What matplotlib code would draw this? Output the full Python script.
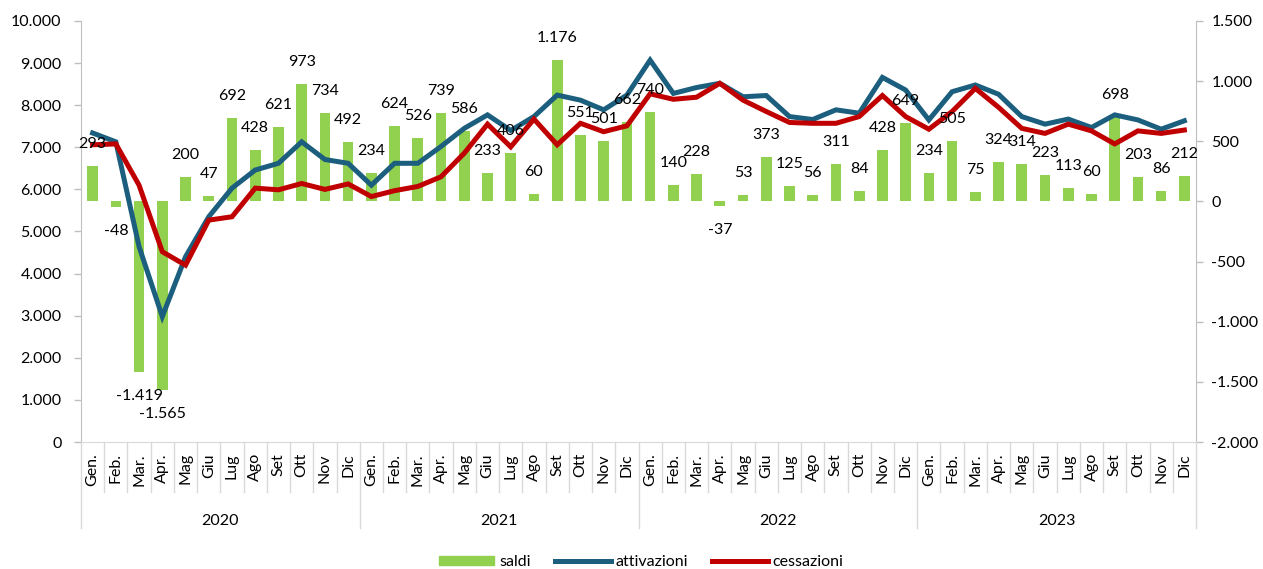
import matplotlib
matplotlib.use("Agg")
import matplotlib.pyplot as plt
from matplotlib.transforms import blended_transform_factory
from matplotlib.patches import Patch
from matplotlib.lines import Line2D

plt.rcParams['font.family'] = ['Lato', 'DejaVu Sans']

mesi = ["Gen.", "Feb.", "Mar.", "Apr.", "Mag", "Giu", "Lug", "Ago", "Set", "Ott", "Nov", "Dic"]
anni = ["2020", "2021", "2022", "2023"]

saldi = [293, -48, -1419, -1565, 200, 47, 692, 428, 621, 973, 734, 492,
         234, 624, 526, 739, 586, 233, 406, 60, 1176, 551, 501, 662,
         740, 140, 228, -37, 53, 373, 125, 56, 311, 84, 428, 649,
         234, 505, 75, 324, 314, 223, 113, 60, 698, 203, 86, 212]

attivazioni = [7340, 7130, 4640, 2980, 4400, 5350, 6030, 6460, 6620, 7130, 6710, 6620,
               6100, 6620, 6620, 7020, 7450, 7770, 7400, 7730, 8240, 8120, 7890, 8240,
               9070, 8280, 8420, 8520, 8200, 8230, 7730, 7660, 7890, 7810, 8660, 8360,
               7650, 8320, 8480, 8260, 7730, 7550, 7670, 7470, 7770, 7650, 7430, 7630]

cessazioni = [7060, 7080, 6100, 4520, 4200, 5270, 5350, 6030, 5990, 6140, 6000, 6130,
              5830, 5970, 6070, 6300, 6860, 7550, 7010, 7670, 7060, 7570, 7370, 7510,
              8270, 8140, 8190, 8520, 8120, 7850, 7590, 7570, 7570, 7730, 8230, 7730,
              7430, 7850, 8400, 7950, 7450, 7330, 7550, 7390, 7080, 7390, 7330, 7410]

VERDE = "#92D050"
BLU = "#1B5E7E"
ROSSO = "#C00000"
GRIGIO = "#BFBFBF"
GRIGIO_CHIARO = "#D9D9D9"
FS = 11.5
LW = 3.6


def fmt(v):
    return f"{v:,}".replace(",", ".")


n = len(saldi)
x = list(range(n))

fig = plt.figure(figsize=(12.63, 5.69), dpi=100)
W, H = 1263, 569
x0, x1, y0, y1 = 81, 1196, 21, 442
ax = fig.add_axes([x0 / W, (H - y1) / H, (x1 - x0) / W, (y1 - y0) / H])
ax2 = ax.twinx()
ax.set_zorder(2)
ax2.set_zorder(1)
ax.patch.set_visible(False)

# saldi sull'asse destro
ax2.bar(x, saldi, width=0.46, color=VERDE, zorder=1)
ax2.set_ylim(-2000, 1500)
ax2.set_yticks(range(-2000, 1501, 500))
ax2.set_yticklabels([fmt(v) for v in range(-2000, 1501, 500)])

# attivazioni / cessazioni sull'asse sinistro
ax.plot(x, attivazioni, color=BLU, lw=LW, solid_joinstyle="miter", zorder=3)
ax.plot(x, cessazioni, color=ROSSO, lw=LW, solid_joinstyle="miter", zorder=3)
ax.set_ylim(0, 10000)
ax.set_yticks(range(0, 10001, 1000))
ax.set_yticklabels([fmt(v) for v in range(0, 10001, 1000)])
ax.set_xlim(-0.5, n - 0.5)

for a in (ax, ax2):
    for s in a.spines.values():
        s.set_visible(False)
    a.tick_params(axis="y", colors=GRIGIO, labelcolor="black", labelsize=FS,
                  length=5, width=1)
ax.spines["left"].set_visible(True)
ax.spines["left"].set_color(GRIGIO)
ax2.spines["right"].set_visible(True)
ax2.spines["right"].set_color(GRIGIO)
ax.spines["bottom"].set_visible(True)
ax.spines["bottom"].set_color(GRIGIO_CHIARO)
ax.tick_params(axis="y", pad=9)
ax2.tick_params(axis="y", pad=6)

# etichette mesi
ax.set_xticks(x)
ax.set_xticklabels(mesi * len(anni), rotation=90, fontsize=FS)
ax.tick_params(axis="x", length=0, pad=8)

# separatori categorie
tr = blended_transform_factory(ax.transData, ax.transAxes)
for i in range(n + 1):
    b = i - 0.5
    giu = 86 if i % 12 == 0 else 50
    ax.plot([b, b], [0, -giu / (y1 - y0)], transform=tr, color=GRIGIO_CHIARO,
            lw=1, clip_on=False, zorder=1)

for k, anno in enumerate(anni):
    ax.text(k * 12 + 5.5, -79 / (y1 - y0), anno, transform=tr,
            ha="center", va="center", fontsize=FS)

# valori dei saldi
for i, v in enumerate(saldi):
    dy = 22 if v >= 0 else -24
    ax.annotate(fmt(v), (i, v), xycoords=ax2.transData,
                xytext=(0, dy), textcoords="offset pixels",
                ha="center", va="center", fontsize=FS, zorder=5)

handles = [Patch(color=VERDE), Line2D([], [], color=BLU, lw=LW),
           Line2D([], [], color=ROSSO, lw=LW)]
fig.legend(handles, ["saldi", "attivazioni", "cessazioni"], loc="center",
           bbox_to_anchor=(641 / W, 1 - 562 / H), ncol=3, frameon=False,
           fontsize=FS, handlelength=3.5, handleheight=0.45, columnspacing=1.5,
           handletextpad=0.3)

fig.savefig("out.png", dpi=100)
